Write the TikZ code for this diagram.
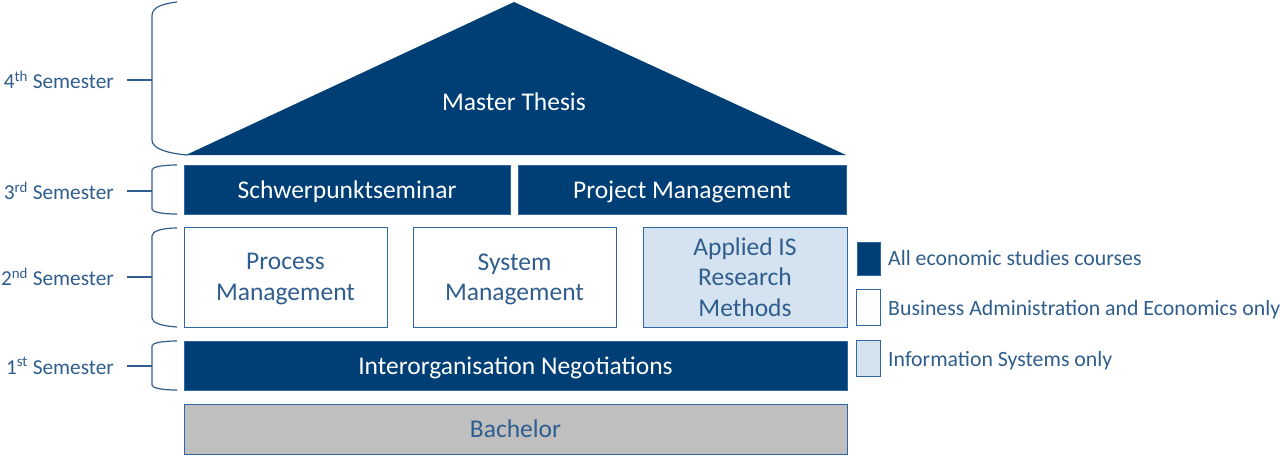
\documentclass[tikz,border=0pt]{standalone}
\usepackage{fontspec}
\setmainfont{Carlito}
\definecolor{dkblue}{HTML}{003F75}
\definecolor{edgeblue}{HTML}{2E67A3}
\definecolor{txtblue}{HTML}{2F5E8E}
\definecolor{ltblue}{HTML}{D5E2EF}
\definecolor{grayfill}{HTML}{BFBFBF}
\begin{document}
\begin{tikzpicture}[x=1pt,y=-1pt,
  box/.style={draw=edgeblue,line width=1pt,inner sep=0pt,outer sep=0pt,anchor=north west,align=center,font=\fontsize{25.5}{30.5}\selectfont,text depth=0pt},
  darkbox/.style={box,fill=dkblue,text=white},
  whitebox/.style={box,fill=white,text=txtblue},
  lightbox/.style={box,fill=ltblue,text=txtblue},
  graybox/.style={box,fill=grayfill,text=txtblue},
  semlabel/.style={anchor=east,text=txtblue,font=\fontsize{21.3}{25}\selectfont,inner sep=0pt},
  legtext/.style={anchor=west,text=txtblue,font=\fontsize{21.8}{25}\selectfont,inner sep=0pt},
  legbox/.style={draw=edgeblue,line width=1pt,inner sep=0pt,anchor=north west},
  brace/.style={draw=txtblue,line width=1.2pt}]
\useasboundingbox (0,0) rectangle (1280,456);
% roof
\fill[dkblue] (186,155) -- (514,2) -- (846,155) -- cycle;
\node[text=white,font=\fontsize{25.5}{30.5}\selectfont] (thesis) at (514,102) {Master Thesis};
% 3rd semester
\node[darkbox,minimum width=326pt,minimum height=49pt] (schwer) at (184,165) {Schwerpunktseminar};
\node[darkbox,minimum width=328pt,minimum height=49pt] (pm) at (518,165) {Project Management};
% 2nd semester
\node[whitebox,minimum width=203pt,minimum height=100pt] (proc) at (184,227) {Process\\Management};
\node[whitebox,minimum width=203pt,minimum height=100pt] (sys) at (413,227) {System\\Management};
\node[lightbox,minimum width=204pt,minimum height=100pt] (ais) at (643,227) {Applied IS\\Research\\Methods};
% 1st semester
\node[darkbox,minimum width=663pt,minimum height=49pt] (neg) at (184,341) {Interorganisation Negotiations};
% bachelor
\node[graybox,minimum width=663pt,minimum height=50pt] (bach) at (184,404) {Bachelor};
% legend
\node[legbox,fill=dkblue,minimum width=23pt,minimum height=33pt] (l1) at (857,242) {};
\node[legbox,fill=white,minimum width=24pt,minimum height=36pt] (l2) at (856,289) {};
\node[legbox,fill=ltblue,minimum width=24pt,minimum height=36pt] (l3) at (856,340) {};
\node[legtext] (t1) at (888,258) {All economic studies courses};
\node[legtext] (t2) at (888,310) {Business Administration and Economics only};
\node[legtext] (t3) at (888,361) {Information Systems only};
% semester labels
\node[semlabel] (s4) at (114,80) {4\textsuperscript{th} Semester};
\node[semlabel] (s3) at (114,191) {3\textsuperscript{rd} Semester};
\node[semlabel] (s2) at (114,277) {2\textsuperscript{nd} Semester};
\node[semlabel] (s1) at (114,366) {1\textsuperscript{st} Semester};
% braces
\coordinate (b4) at (152,80);
\coordinate (b3) at (152,191);
\coordinate (b2) at (152,277);
\coordinate (b1) at (152,366);
\draw[brace] ([xshift=13pt]s4.east) -- (b4);
\draw[brace] ([xshift=13pt]s3.east) -- (b3);
\draw[brace] ([xshift=13pt]s2.east) -- (b2);
\draw[brace] ([xshift=13pt]s1.east) -- (b1);
\draw[brace] (177,2) .. controls (160,4) and (152,8) .. (152,16) -- (152,140) .. controls (152,148) and (165,153) .. (187,155);
\draw[brace] (177,165) .. controls (162,165) and (152,167) .. (152,170) -- (152,209) .. controls (152,212) and (162,214) .. (177,214);
\draw[brace] (177,228) .. controls (162,228) and (152,231) .. (152,236) -- (152,318) .. controls (152,323) and (162,326) .. (177,327);
\draw[brace] (177,341) .. controls (162,341) and (152,343) .. (152,346) -- (152,385) .. controls (152,388) and (162,390) .. (177,390);
\end{tikzpicture}
\end{document}
